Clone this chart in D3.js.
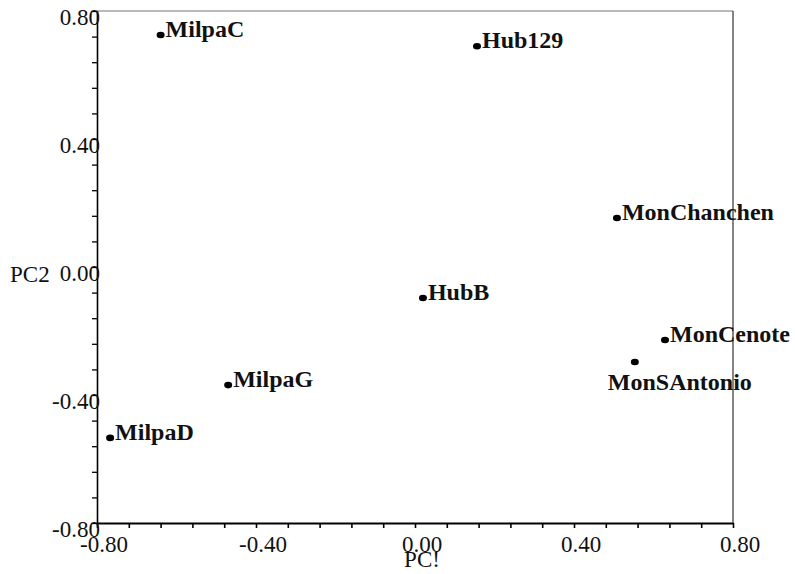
<!DOCTYPE html>
<html>
<head>
<meta charset="utf-8">
<script src="https://cdn.jsdelivr.net/npm/d3@7"></script>
<style>
  body { margin: 0; background: #fff; }
  text { font-family: "Liberation Serif", "Times New Roman", serif; fill: #111; }
</style>
</head>
<body>
<script>
// sites and their scores on the first two components
var sites = ["MilpaC", "Hub129", "MonChanchen", "HubB", "MonCenote", "MonSAntonio", "MilpaG", "MilpaD"];
var pc1 = [-0.64, 0.156, 0.508, 0.02, 0.629, 0.553, -0.47, -0.767];
var pc2 = [0.725, 0.69, 0.153, -0.097, -0.228, -0.297, -0.369, -0.534];

var majorTicks = [-0.8, -0.4, 0, 0.4, 0.8];
var tickLabels = ["-0.80", "-0.40", "0.00", "0.40", "0.80"];
var labelsBelow = ["MonSAntonio"];

(function() {

    var width = 795, height = 574;

    var svg = d3.select("body").append("svg")
                .attr("width", width)
                .attr("height", height);

    var x = d3.scaleLinear().domain([-0.8, 0.8]).range([97, 733]);
    var y = d3.scaleLinear().domain([-0.8, 0.8]).range([523, 11]);

    // minor ticks every 0.08
    var minor = d3.range(0, 21).map(function(i) { return -0.8 + i * 0.08; });

    // frame: top and right lines are thin
    svg.append("line")
       .attr("x1", x(-0.8)).attr("x2", x(0.8))
       .attr("y1", y(0.8)).attr("y2", y(0.8))
       .style("stroke", "#777").style("stroke-width", 1.2);
    svg.append("line")
       .attr("x1", x(0.8)).attr("x2", x(0.8))
       .attr("y1", y(0.8)).attr("y2", y(-0.8))
       .style("stroke", "#333").style("stroke-width", 1.2);

    var xAxis = svg.append("g")
                   .attr("transform", "translate(0," + y(-0.8) + ")")
                   .call(d3.axisBottom(x).tickValues(minor).tickSize(5).tickSizeOuter(0).tickFormat(""));
    xAxis.select(".domain").style("stroke", "#000").style("stroke-width", 2.2);
    xAxis.selectAll(".tick line").style("stroke", "#000").style("stroke-width", 1.6);

    var yAxis = svg.append("g")
                   .attr("transform", "translate(" + x(-0.8) + ",0)")
                   .call(d3.axisLeft(y).tickValues(minor).tickSize(5).tickSizeOuter(0).tickFormat(""));
    yAxis.select(".domain").style("stroke", "#000").style("stroke-width", 1.6);
    yAxis.selectAll(".tick line").style("stroke", "#000").style("stroke-width", 1.3);

    // tick labels
    svg.selectAll(".xlab")
       .data(majorTicks)
       .enter()
       .append("text")
       .attr("x", function(d) { return x(d) + 7; })
       .attr("y", y(-0.8) + 29)
       .attr("text-anchor", "middle")
       .style("font-size", "23px")
       .text(function(d, i) { return tickLabels[i]; });

    svg.selectAll(".ylab")
       .data(majorTicks)
       .enter()
       .append("text")
       .attr("x", x(-0.8) + 3)
       .attr("y", function(d) { return y(d) + 14; })
       .attr("text-anchor", "end")
       .style("font-size", "23px")
       .text(function(d, i) { return tickLabels[i]; });

    // axis titles
    svg.append("text")
       .attr("x", 10).attr("y", y(0) + 15)
       .style("font-size", "23px")
       .text("PC2");
    svg.append("text")
       .attr("x", x(0) + 7).attr("y", 567)
       .attr("text-anchor", "middle")
       .style("font-size", "23px")
       .text("PC!");

    // points
    var points = svg.selectAll(".pt")
                    .data(sites)
                    .enter()
                    .append("g");

    points.append("ellipse")
          .attr("cx", function(d, i) { return x(pc1[i]); })
          .attr("cy", function(d, i) { return y(pc2[i]); })
          .attr("rx", 4)
          .attr("ry", 3.3)
          .style("fill", "#000");

    points.append("text")
          .attr("x", function(d, i) {
              return labelsBelow.indexOf(d) >= 0 ? x(pc1[i]) - 27 : x(pc1[i]) + 5;
          })
          .attr("y", function(d, i) {
              return labelsBelow.indexOf(d) >= 0 ? y(pc2[i]) + 28 : y(pc2[i]) + 2;
          })
          .style("font-size", "24px")
          .style("font-weight", "bold")
          .text(function(d) { return d; });

})();
</script>
</body>
</html>
